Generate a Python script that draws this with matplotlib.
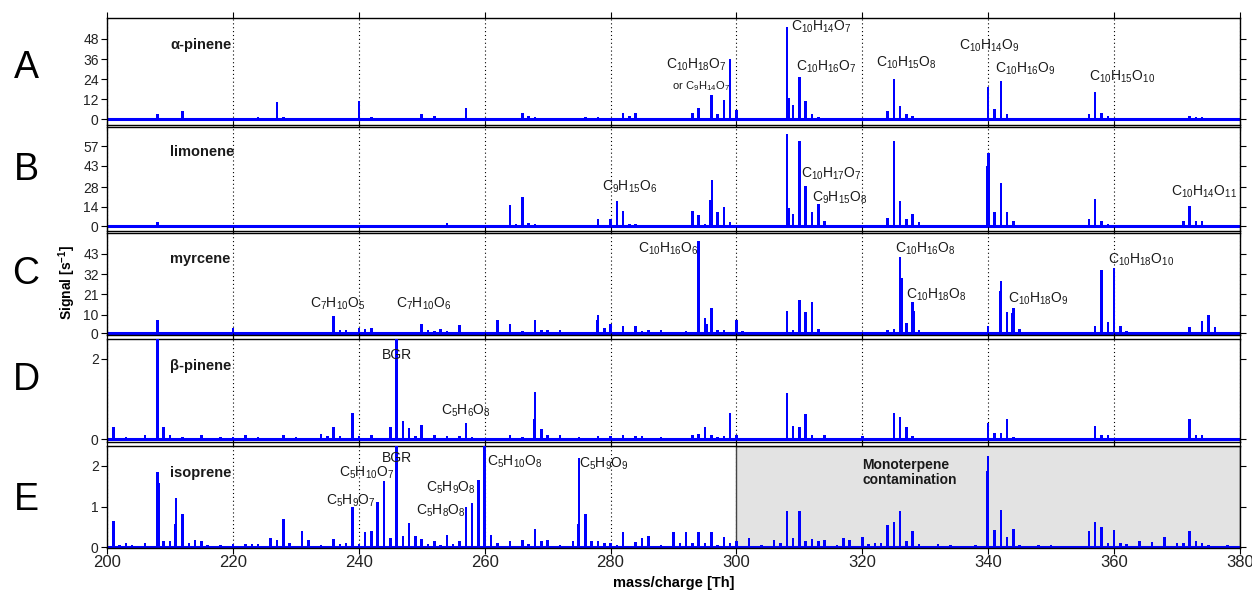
import re
import numpy as np
import matplotlib
matplotlib.use("Agg")
import matplotlib.pyplot as plt

plt.rcParams['font.family'] = ['Liberation Sans', 'DejaVu Sans']
plt.rcParams['mathtext.default'] = 'regular'

# ---- data: peak mass (Th) and signal for each precursor ----
a_mz = [208, 212, 224, 227, 228, 240, 242, 248, 250, 252, 257, 264, 266, 267, 268, 276,
        278, 282, 283, 284, 290, 292, 293, 294, 295, 296, 297, 298, 299, 300, 308, 308.35,
        309, 310, 311, 312, 313, 314, 324, 325, 326, 327, 328, 340, 341, 342, 343, 356,
        357, 358, 359, 364, 371, 372, 373, 374, 378]
a_sig = [3.2, 4.8, 1.2, 10.5, 1.5, 11, 1.5, 0.8, 3, 2, 7, 1, 4, 2, 1.5, 1.5,
         1.5, 3.5, 2, 3.5, 1, 1, 3.5, 7, 1, 14.5, 3, 11.3, 36, 5.8, 55, 13,
         8.7, 25, 10.7, 3.4, 1.5, 1, 4.8, 24, 8.2, 3, 2, 19.5, 6, 23, 3, 3,
         16.5, 4, 2, 0.8, 0.8, 2, 1.5, 1.5, 0.6]

b_mz = [208, 242, 250, 254, 264, 265, 266, 267, 268, 270, 276, 278, 280, 281, 282, 283,
        284, 292, 293, 294, 295, 295.85, 296.1, 297, 298, 299, 308, 308.35, 309, 310, 311,
        312, 313, 314, 324, 325, 326, 327, 328, 329, 330, 339.85, 340.05, 341, 342, 343,
        344, 356, 357, 358, 359, 371, 372, 373, 374]
b_sig = [3, 1, 0.5, 2.4, 15, 2, 21, 2.5, 1.5, 1, 0.8, 5.5, 5, 18, 11, 1.5,
         1.5, 1, 10.9, 7.8, 2, 19, 33, 10, 14, 3, 65.5, 13, 9, 61, 28.5,
         10, 15.7, 4, 6, 61, 17.8, 5, 9, 3, 1, 43, 52, 10, 31, 10,
         4, 5, 19.7, 4, 2, 4, 14.7, 4, 4]

c_mz = [208, 210, 214, 218, 220, 226, 236, 237, 238, 240, 241, 242, 250, 251, 252, 253,
        254, 256, 262, 264, 266, 268, 269, 270, 272, 276, 277.85, 278, 279, 280, 282, 284,
        285, 286, 288, 292, 294, 295, 295.3, 296, 297, 298, 300, 301, 308, 309, 310, 311,
        312, 313, 316, 324, 325, 326, 326.2, 327, 328, 328.2, 329, 340, 341.85, 342, 343,
        343.85, 344, 345, 357, 358, 359, 360, 361, 362, 372, 374, 375, 376]
c_sig = [7, 0.5, 0.5, 0.8, 2.5, 0.5, 9.5, 1.5, 1.5, 2.5, 2, 3, 5, 1.5, 1, 2,
         1, 4.3, 7, 5, 1, 7, 1.5, 1.5, 1.5, 0.5, 7, 10, 3, 5, 4, 4,
         1, 1.5, 1.5, 1, 50, 8, 5, 13.5, 1.5, 1.5, 7, 1, 12, 1.5, 17.7, 11.6,
         16.8, 2, 0.5, 1.5, 2, 41.5, 30, 5.4, 16.8, 12, 1.5, 4, 22.6, 28.2, 11.2,
         11, 13.5, 2, 4, 34.3, 6, 35.2, 4, 1, 3.5, 6.6, 9.8, 3.5]

d_mz = [201, 203, 206, 208, 209, 210, 212, 215, 218, 220, 222, 224, 228, 230, 234, 235,
        236, 237, 239, 240, 242, 245, 246, 247, 248, 249, 250, 252, 254, 256, 257, 258,
        264, 266, 267.85, 268, 269, 270, 272, 275, 278, 280, 282, 284, 285, 288, 293, 294,
        295, 296, 297, 298, 299, 300, 308, 309, 310, 311, 312, 314, 320, 325, 326, 327,
        328, 340, 341, 342, 343, 344, 357, 358, 359, 372, 373, 374]
d_sig = [0.31, 0.05, 0.1, 3.0, 0.3, 0.11, 0.05, 0.1, 0.05, 0.06, 0.1, 0.06, 0.1, 0.05, 0.14, 0.08,
         0.3, 0.08, 0.64, 0.08, 0.1, 0.3, 3.0, 0.46, 0.27, 0.08, 0.36, 0.1, 0.08, 0.08, 0.41, 0.06,
         0.1, 0.06, 0.5, 1.18, 0.25, 0.1, 0.1, 0.05, 0.08, 0.08, 0.1, 0.08, 0.08, 0.05, 0.1, 0.13,
         0.3, 0.1, 0.06, 0.08, 0.66, 0.1, 1.14, 0.32, 0.3, 0.63, 0.1, 0.1, 0.08, 0.66, 0.55, 0.3,
         0.08, 0.4, 0.15, 0.15, 0.5, 0.05, 0.33, 0.1, 0.1, 0.5, 0.1, 0.1]

e_mz = [201, 202, 203, 204, 206, 208, 208.15, 209, 210, 210.85, 211, 212, 213, 214, 215, 216,
        218, 220, 222, 223, 224, 226, 227, 228, 229, 231, 232, 234, 236, 237, 238, 239,
        240, 241, 242, 243, 244, 245, 246, 247, 248, 249, 250, 251, 252, 253, 254, 255,
        256, 257, 258, 259, 260, 261, 262, 264, 266, 267, 268, 269, 270, 272, 274, 274.85,
        275, 276, 277, 278, 279, 280, 281, 282, 284, 285, 286, 288, 290, 291, 292, 293,
        294, 295, 296, 297, 298, 299, 300, 302, 304, 306, 307, 308, 309, 310, 311, 312,
        313, 314, 316, 317, 318, 320, 321, 322, 323, 324, 325, 326, 327, 328, 329, 332,
        334, 338, 339.85, 340, 341, 342, 343, 344, 345, 348, 350, 356, 357, 358, 359, 360,
        361, 362, 364, 366, 368, 370, 371, 372, 373, 374, 375, 378]
e_sig = [0.65, 0.06, 0.1, 0.06, 0.1, 1.84, 1.57, 0.16, 0.15, 0.56, 1.22, 0.81, 0.1, 0.17, 0.15, 0.05,
         0.05, 0.08, 0.08, 0.08, 0.08, 0.23, 0.17, 0.7, 0.1, 0.4, 0.17, 0.06, 0.2, 0.08, 0.1, 1.0,
         0.08, 0.37, 0.41, 1.12, 1.63, 0.23, 3.0, 0.28, 0.59, 0.27, 0.2, 0.08, 0.15, 0.06, 0.3, 0.08,
         0.15, 1.0, 1.08, 1.66, 3.0, 0.31, 0.1, 0.16, 0.17, 0.08, 0.44, 0.16, 0.17, 0.06, 0.15, 0.58,
         2.19, 0.82, 0.15, 0.15, 0.1, 0.1, 0.06, 0.37, 0.12, 0.23, 0.28, 0.06, 0.37, 0.1, 0.37, 0.1,
         0.37, 0.1, 0.37, 0.06, 0.25, 0.1, 0.15, 0.22, 0.06, 0.17, 0.1, 0.9, 0.22, 0.9, 0.16, 0.2,
         0.16, 0.17, 0.06, 0.22, 0.17, 0.26, 0.08, 0.1, 0.1, 0.55, 0.63, 0.89, 0.14, 0.41, 0.08, 0.08,
         0.06, 0.06, 1.88, 2.25, 0.42, 0.92, 0.25, 0.44, 0.06, 0.06, 0.06, 0.41, 0.61, 0.5, 0.1, 0.42,
         0.1, 0.08, 0.16, 0.12, 0.25, 0.1, 0.1, 0.4, 0.15, 0.1, 0.06, 0.06]

precursors = ['α-pinene', 'limonene', 'myrcene', 'β-pinene', 'isoprene']
panel_letters = ['A', 'B', 'C', 'D', 'E']
ylims = [(-3.4, 60.5), (-3.2, 70.6), (-0.8, 54.4), (-0.07, 2.49), (-0.02, 2.49)]
yticks = [[0, 12, 24, 36, 48], [0, 14, 28, 43, 57], [0, 10, 21, 32, 43], [0, 2], [0, 1, 2]]
name_y = [44.4, 52.8, 40.2, 1.82, 1.83]

# peak labels: (formula, x, y, ha)
a_labels = [('C10H14O7', 308.6, 55.5, 'left'), ('C10H16O7', 309.5, 31.6, 'left'),
            ('C10H18O7', 293.7, 32.5, 'center'), ('C10H15O8', 327.0, 34.0, 'center'),
            ('C10H14O9', 340.2, 44.1, 'center'), ('C10H16O9', 345.9, 30.4, 'center'),
            ('C10H15O10', 361.2, 25.6, 'center')]
b_labels = [('C9H15O6', 283.1, 28.4, 'center'), ('C10H17O7', 315.0, 37.6, 'center'),
            ('C9H15O8', 316.4, 20.6, 'center'), ('C10H14O11', 374.3, 24.8, 'center')]
c_labels = [('C7H10O5', 236.7, 16.0, 'center'), ('C7H10O6', 250.3, 16.0, 'center'),
            ('C10H16O6', 289.2, 45.7, 'center'), ('C10H16O8', 330.0, 45.9, 'center'),
            ('C10H18O8', 331.7, 20.7, 'center'), ('C10H18O9', 348.0, 18.8, 'center'),
            ('C10H18O10', 364.2, 40.0, 'center')]
d_labels = [('BGR', 246.1, 2.09, 'center'), ('C5H6O8', 257.1, 0.71, 'center')]
e_labels = [('BGR', 246.1, 2.20, 'center'), ('C5H10O7', 241.3, 1.82, 'center'),
            ('C5H9O7', 238.8, 1.14, 'center'), ('C5H9O8', 254.7, 1.45, 'center'),
            ('C5H8O8', 253.0, 0.89, 'center'), ('C5H10O8', 260.3, 2.09, 'left'),
            ('C5H9O9', 279.0, 2.04, 'center')]

series = [(a_mz, a_sig, a_labels), (b_mz, b_sig, b_labels), (c_mz, c_sig, c_labels),
          (d_mz, d_sig, d_labels), (e_mz, e_sig, e_labels)]


def chem(s):
    """Turn C10H14O7 into mathtext with subscripts."""
    if not re.search(r'\d', s):
        return s
    return '$\\mathregular{' + re.sub(r'(\d+)', r'_{\1}', s) + '}$'


W, H = 1252, 592
LEFT, RIGHT = 107, 1240
panels_px = [(18, 125), (127, 231), (233, 334.5), (339, 442), (446, 548)]
letter_y = [68, 170, 274, 380, 500]
BLUE = '#0000ff'
TXT = '#1a1a1a'

fig = plt.figure(figsize=(W / 100, H / 100), dpi=100)

axes = []
for i, (top, bottom) in enumerate(panels_px):
    ax = fig.add_axes([LEFT / W, 1 - bottom / H, (RIGHT - LEFT) / W, (bottom - top) / H])
    axes.append(ax)
    mz, sig, labels = series[i]

    ax.set_axisbelow(True)
    ax.grid(axis='x', linestyle=(0, (1, 2.5)), color='k', linewidth=0.8)
    ax.axhline(0, color=BLUE, linewidth=2.2, zorder=2)
    ax.bar(mz, sig, width=0.4, color=BLUE, linewidth=0, zorder=3)

    ax.set_xlim(200, 380)
    ax.set_ylim(*ylims[i])
    ax.set_xticks(np.arange(200, 381, 20))
    ax.set_yticks(yticks[i])
    ax.tick_params(direction='out', length=4, width=0.8, top=True, right=True,
                   labelsize=10, pad=2, colors='k', labelcolor='#222222')
    if i < 4:
        ax.tick_params(labelbottom=False)
    else:
        ax.tick_params(axis='x', labelsize=12, pad=1)
    for sp in ax.spines.values():
        sp.set_linewidth(1.0)

    ax.text(210, name_y[i], precursors[i], fontsize=10.5, fontweight='bold',
            ha='left', va='center', color=TXT, zorder=5)
    for txt, x, y, ha in labels:
        ax.text(x, y, chem(txt), fontsize=10, ha=ha, va='center', color=TXT, zorder=5)

    fig.text(26 / W, 1 - letter_y[i] / H, panel_letters[i], fontsize=27,
             ha='center', va='center')

# panel A second-choice formula
axes[0].text(294.3, 19.9, '$\\mathregular{or\\ C_9H_{14}O_7}$', fontsize=8,
             ha='center', va='center', color=TXT, zorder=5)

# isoprene panel: shaded monoterpene contamination region
ax_e = axes[4]
ax_e.axvspan(300, 380, facecolor='#e3e3e3', edgecolor='#444444', linewidth=1.0, zorder=1)
ax_e.text(320, 1.83, 'Monoterpene\ncontamination', fontsize=10, fontweight='bold',
          ha='left', va='center', color=TXT, linespacing=1.1, zorder=5)
ax_e.set_xlabel('mass/charge [Th]', fontsize=10.5, fontweight='bold', labelpad=4)

fig.text(67 / W, 1 - 282 / H, 'Signal [s$^{\\mathregular{-1}}$]', fontsize=10,
         fontweight='bold', rotation=90, ha='center', va='center')

fig.savefig('out.png', dpi=100)
